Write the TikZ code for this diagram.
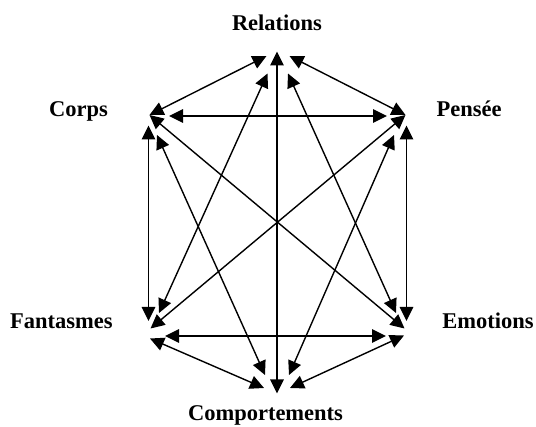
\documentclass[tikz,border=0pt]{standalone}
\usepackage{fontspec}
\setmainfont{Liberation Serif}
\usetikzlibrary{arrows.meta}
\begin{document}
\begin{tikzpicture}[x=1pt,y=-1pt,
  lab/.style={anchor=base,inner sep=0pt,font=\fontsize{22.5}{26}\selectfont\bfseries},
  link/.style={line width=1.4pt,{Triangle[length=14pt,width=13.5pt]}-{Triangle[length=14pt,width=13.5pt]}}]
\useasboundingbox (0,0) rectangle (536,427);
% labels
\node[lab] (rel) at (277,30.7) {Relations};
\node[lab] (cor) at (78.5,116.7) {Corps};
\node[lab] (pen) at (469,116.7) {Pensée};
\node[lab] (fan) at (61.4,329) {Fantasmes};
\node[lab] (emo) at (488,329) {Emotions};
\node[lab] (com) at (265.5,420.5) {Comportements};
% arrow end points
\coordinate (R1) at (277,51.5);   \coordinate (Co1) at (277,393.5);
\coordinate (C1) at (149.5,115);  \coordinate (R2) at (266.5,56);
\coordinate (P1) at (405.5,115);  \coordinate (R3) at (289.5,56);
\coordinate (C2) at (169,116);    \coordinate (P2) at (387,116);
\coordinate (F1) at (159,313);    \coordinate (R4) at (267.5,73.5);
\coordinate (E1) at (396,313);    \coordinate (R5) at (288,73.5);
\coordinate (C3) at (148.5,125.5);\coordinate (F2) at (148.5,321);
\coordinate (P3) at (406.5,125.5);\coordinate (E2) at (406.5,321);
\coordinate (C4) at (157,135);    \coordinate (Co2) at (265,375);
\coordinate (P4) at (394,135);    \coordinate (Co3) at (289,375);
\coordinate (C5) at (149.5,115);  \coordinate (E3) at (404.5,328.5);
\coordinate (P5) at (405.5,115);  \coordinate (F3) at (150.5,328.5);
\coordinate (F4) at (165,336);    \coordinate (E4) at (386,336);
\coordinate (F5) at (150,338.5);  \coordinate (Co4) at (264,388);
\coordinate (E5) at (404,335.5);  \coordinate (Co5) at (290,388);
% connectors
\draw[link] (R1) -- (Co1);
\draw[link] (C1) -- (R2);
\draw[link] (P1) -- (R3);
\draw[link] (C2) -- (P2);
\draw[link] (F1) -- (R4);
\draw[link] (E1) -- (R5);
\draw[link] (C3) -- (F2);
\draw[link] (P3) -- (E2);
\draw[link] (C4) -- (Co2);
\draw[link] (P4) -- (Co3);
\draw[link] (C5) -- (E3);
\draw[link] (P5) -- (F3);
\draw[link] (F4) -- (E4);
\draw[link] (F5) -- (Co4);
\draw[link] (E5) -- (Co5);
\end{tikzpicture}
\end{document}
